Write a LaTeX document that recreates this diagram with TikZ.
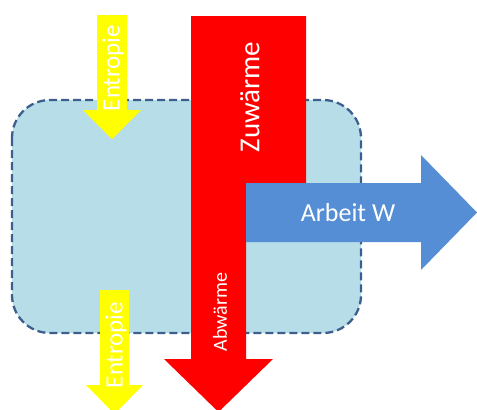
\documentclass[tikz,border=0pt]{standalone}
\usepackage{fontspec}
\setmainfont{Carlito}
\definecolor{boxfill}{HTML}{B7DEE8}
\definecolor{boxline}{HTML}{3C5F8E}
\definecolor{arbeit}{HTML}{558ED5}
\definecolor{heat}{HTML}{FF0000}
\definecolor{entro}{HTML}{FFFF00}
\begin{document}
\begin{tikzpicture}[x=1pt,y=-1pt,
  lab/.style={text=white,inner sep=0pt,font=#1},
  flow/.style={fill=#1,draw=none}]
\useasboundingbox (0,0) rectangle (477,410);
% system box
\draw[fill=boxfill,draw=boxline,line width=2.3pt,dash pattern=on 8pt off 4pt,rounded corners=38pt]
  (12,100) rectangle (361,333);
% entropy in
\path[flow=entro] (97,15) -- (127,15) -- (127,110) -- (141,110) -- (112,139) -- (83,110) -- (97,110) -- cycle;
% entropy out
\path[flow=entro] (100,290) -- (129,290) -- (129,385) -- (143,385) -- (114.5,414) -- (86,385) -- (100,385) -- cycle;
% heat
\path[flow=heat] (191,16) -- (306,16) -- (306,210) -- (246,210) -- (246,359) -- (273,359) -- (218.5,412) -- (164,359) -- (191,359) -- cycle;
% work
\path[flow=arbeit] (246,183) -- (421,183) -- (421,155) -- (477,212.5) -- (421,270) -- (421,242) -- (246,242) -- cycle;
% labels
\node[lab=\fontsize{25}{30}\selectfont,rotate=90] (ein) at (113,68) {Entropie};
\node[lab=\fontsize{25}{30}\selectfont,rotate=90] (aus) at (116,345) {Entropie};
\node[lab=\fontsize{29}{34}\selectfont,rotate=90] (zu) at (250,97) {Zuwärme};
\node[lab=\fontsize{20}{24}\selectfont,rotate=90] (ab) at (220,312) {Abwärme};
\node[lab=\fontsize{26}{31}\selectfont] (w) at (348,213) {Arbeit W};
\end{tikzpicture}
\end{document}
